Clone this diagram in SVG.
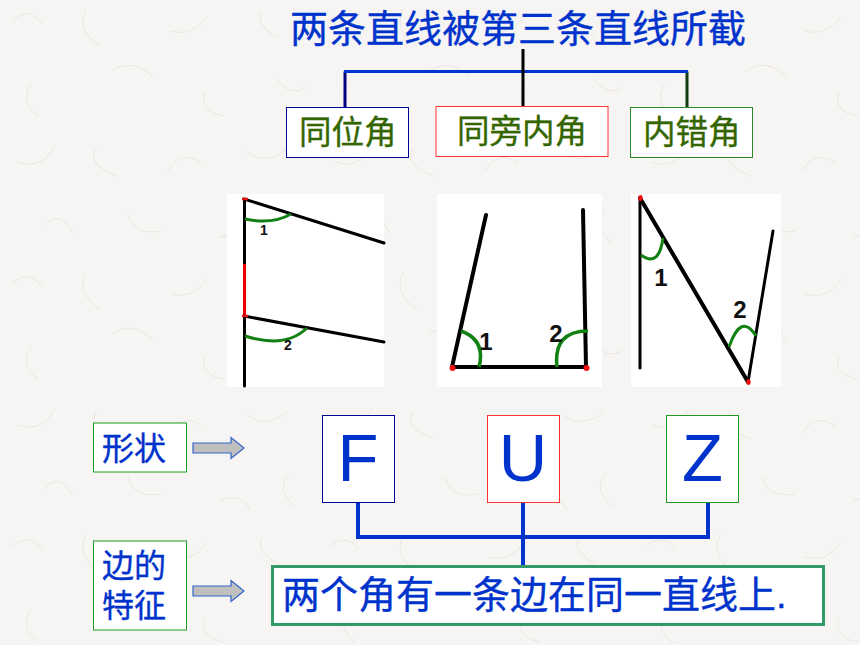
<svg xmlns="http://www.w3.org/2000/svg" width="860" height="645" viewBox="0 0 860 645">
<style>
text{font-family:"Liberation Sans","Noto Sans CJK SC",sans-serif}
.t{fill:#0033cc;font-size:32px;stroke:#0033cc;stroke-width:.35px}
.g{fill:#336600;font-size:32.500px;stroke:#336600;stroke-width:.35px}
.box{fill:#fff;stroke-width:1}
.pic{fill:#fff}
.k{stroke:#000;fill:none;stroke-linecap:round}
.arc{stroke:#128012;stroke-width:3;fill:none}
.n{font-family:"Liberation Sans",sans-serif;font-weight:bold;fill:#111}
.letter{font-family:"Liberation Sans",sans-serif;font-size:67px;fill:#0033cc;text-anchor:middle}
.dot{fill:#f01010}
.arrow{fill:#bfbfbf;stroke:#3366cc;stroke-width:1.2}
.c{fill:none;stroke-width:3}
.c2{fill:none;stroke:#0033cc;stroke-width:4}
.tx{fill:none;stroke:#e4e2de;stroke-width:.8}
</style>
<defs>
<pattern id="paper" width="317" height="263" patternUnits="userSpaceOnUse">
<rect width="317" height="263" fill="#f6f5f3"/>
<path class="tx" d="M12 20q18-14 30 4M86 9q-10 22 14 37M171 31q22 6 36-15M262 12q-8 12 16 26M31 84q-12 18 8 33M112 71q20-14 41 6M205 92q-6 20 19 24M276 78q14 20 30 9M18 162q24 8 37-16M97 148q-12 16 20 28M168 171q12-22 34-8M247 152q18 14 40-3M44 226q16-18 29 7M128 214q6 22 33 17M219 238q22-10 31 9M289 211q-14 14 6 33"/>
</pattern>
</defs>
<rect id="background" width="860" height="645" fill="url(#paper)"/>

<g id="connectors">
<path class="c" stroke="#000080" d="M345 107V71.500"/>
<path class="c" stroke="#0f3d0f" d="M687 107V71.500"/>
<path class="c" stroke="#0033cc" d="M344 71.500H688"/>
<path class="c" stroke="#000" d="M523 49V106"/>
<path class="c2" d="M358 502V537H708V502"/>
<path class="c2" d="M523 502V566"/>
</g>

<g id="title"><text x="290" y="42" class="t" style="font-size:38px">两条直线被第三条直线所截</text></g>

<g id="node-tongwei"><rect class="box" x="286.500" y="107.500" width="122" height="50" stroke="#000099"/><text x="299" y="144" class="g">同位角</text></g>
<g id="node-tongpang"><rect class="box" x="436" y="106.500" width="172" height="50" stroke="#ff3333"/><text x="457" y="143" class="g">同旁内角</text></g>
<g id="node-neicuo"><rect class="box" x="630.500" y="107.500" width="122" height="50" stroke="#2a8a2a"/><text x="643" y="144" class="g">内错角</text></g>

<g id="figure-f">
<rect class="pic" x="227" y="194" width="157" height="193"/>
<path class="k" stroke-width="3" d="M244.500 200V386" stroke-linecap="butt"/>
<path d="M244.500 264V315" stroke="#f00000" stroke-width="3"/>
<path class="k" stroke-width="3" d="M244 199L384 243M244 316L384 342"/>
<path class="arc" d="M245 219Q272 225 291 214M245 336Q285 349 307 328"/>
<path d="M242 199h6M242 316h6" stroke="#e01010" stroke-width="2.500"/>
<text class="n" x="264" y="235" font-size="14" text-anchor="middle">1</text>
<text class="n" x="288" y="350" font-size="14" text-anchor="middle">2</text>
</g>

<g id="figure-u">
<rect class="pic" x="437" y="194" width="165" height="193"/>
<path class="k" stroke-width="4" d="M452 367L486 215M452 367H586L583 210"/>
<path class="arc" style="stroke-width:3.500" d="M461 331Q486 340 479 367M557 367Q553 331 588 331"/>
<circle class="dot" cx="452.500" cy="368" r="3"/><circle class="dot" cx="586.500" cy="368" r="3"/>
<text class="n" x="486" y="350" font-size="24" text-anchor="middle">1</text>
<text class="n" x="556" y="342" font-size="24" text-anchor="middle">2</text>
</g>

<g id="figure-z">
<rect class="pic" x="631" y="194" width="150" height="193"/>
<path class="k" stroke-width="3" d="M640 198V368M748 382L773 231"/>
<path class="k" stroke-width="4" d="M640 198L748 382"/>
<path class="arc" d="M641 255Q659 268 663 238M729 347Q741 312 756 336"/>
<ellipse class="dot" cx="640.500" cy="198" rx="2.200" ry="3"/><ellipse class="dot" cx="748.500" cy="382" rx="2.200" ry="3"/>
<text class="n" x="661" y="286" font-size="24" text-anchor="middle">1</text>
<text class="n" x="740" y="318" font-size="24" text-anchor="middle">2</text>
</g>

<g id="label-shape"><rect class="box" x="93.500" y="423" width="93" height="49" stroke="#1f9a1f"/><text x="102" y="460" class="t">形状</text></g>
<g id="arrow-shape"><path class="arrow" d="M193 443H231V437.500L244 448L231 458.500V453H193Z"/></g>

<g id="node-f"><rect class="box" x="322.500" y="415.500" width="72" height="87" stroke="#000099"/><text class="letter" x="358" y="481">F</text></g>
<g id="node-u"><rect class="box" x="487.500" y="415.500" width="72" height="87" stroke="#ff3333"/><text class="letter" x="523" y="481">U</text></g>
<g id="node-z"><rect class="box" x="666.500" y="415.500" width="72" height="87" stroke="#1f9a1f"/><text class="letter" x="702.500" y="481">Z</text></g>

<g id="label-edge"><rect class="box" x="93.500" y="541" width="93" height="89" stroke="#1f9a1f"/><text class="t"><tspan x="102" y="577">边的</tspan><tspan x="102" y="617">特征</tspan></text></g>
<g id="arrow-edge"><path class="arrow" d="M193 586H231V580.500L244 591L231 601.500V596H193Z"/></g>

<g id="node-result"><rect x="272.500" y="566.500" width="551" height="58" fill="#fff" stroke="#339966" stroke-width="3"/><text x="282" y="608" class="t" style="font-size:38px">两个角有一条边在同一直线上.</text></g>
</svg>
